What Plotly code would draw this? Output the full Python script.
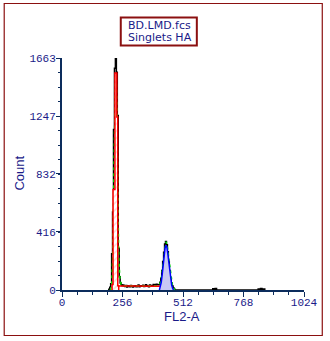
import plotly.graph_objects as go

# Raw FL2-A histogram, 4-channel bins
raw_channel = [196, 200, 204, 208, 212, 216, 220, 224, 228, 232, 236, 240, 244, 248,
               252, 256, 260, 264, 268, 272, 276, 280, 284, 288, 292, 296, 300, 304,
               308, 312, 316, 320, 324, 328, 332, 336, 340, 344, 348, 352, 356, 360,
               364, 368, 372, 376, 380, 384, 388, 392, 396, 400, 404, 408, 412, 416,
               420, 424, 428, 432, 436, 440, 444, 448, 452, 456, 460, 464, 468, 472,
               476, 480, 636, 640, 644, 652, 656, 828, 832, 836, 844, 848, 856, 860]
raw_count = [0, 5, 20, 45, 260, 560, 1150, 1590, 1663, 1560, 1250, 300, 95, 50,
             38, 30, 35, 28, 25, 32, 22, 30, 26, 24, 33, 27, 22, 29,
             25, 31, 24, 27, 35, 23, 28, 30, 26, 34, 25, 29, 38, 27,
             31, 24, 36, 30, 33, 28, 40, 35, 38, 42, 40, 38, 38, 55,
             85, 140, 205, 270, 330, 348, 325, 275, 205, 140, 85, 50, 28, 14,
             6, 0, 0, 9, 0, 11, 0, 0, 8, 0, 10, 0, 7, 0]

# G0/G1 model peak
g1_channel = [208, 212, 216, 224, 232, 236, 240]
g1_count = [0, 40, 720, 1555, 1240, 30, 0]

# S-phase model
s_channel = [236, 244, 300, 360, 420, 450, 466, 470]
s_count = [26, 28, 28, 28, 26, 20, 12, 0]

# G2/M model peak
g2_channel = [412, 416, 420, 424, 428, 432, 436, 440, 444, 448, 452, 456, 460, 464, 468, 472]
g2_count = [0, 20, 55, 110, 180, 250, 300, 320, 305, 255, 190, 125, 70, 35, 12, 0]

# Sum of all model components
fit_channel = [204, 210, 214, 218, 222, 226, 229, 233, 240, 245, 250, 260, 330, 400,
               412, 416, 420, 424, 428, 432, 436, 440, 444, 448, 452, 456, 460, 464,
               468, 472, 478]
fit_count = [0, 30, 200, 700, 1250, 1530, 1555, 1240, 237, 86, 40, 30, 29, 30,
             40, 50, 80, 135, 205, 275, 325, 345, 330, 280, 215, 150, 95, 50,
             25, 12, 0]

x_ticks = [0, 256, 512, 768, 1024]
y_ticks = [0, 416, 832, 1247, 1663]

W, H = 330, 341
L, R, T, B = 62, 23, 58, 51
PW, PH = W - L - R, H - T - B

AXIS = "#0c2c5c"
TEXT = "#1a1a88"
FRAME = "#8b1010"


def px(x, y):
    return (x - L) / PW, (H - B - y) / PH


fig = go.Figure()

fig.add_trace(go.Scatter(x=raw_channel, y=raw_count, mode="lines",
                         line=dict(color="black", width=1.5, shape="hvh"),
                         hoverinfo="skip"))
fig.add_trace(go.Scatter(x=fit_channel, y=fit_count, mode="lines",
                         line=dict(color="#00e000", width=1.5, dash="3px,3px"),
                         hoverinfo="skip"))
fig.add_trace(go.Scatter(x=s_channel, y=s_count, mode="lines",
                         line=dict(color="#ff0000", width=1.5),
                         hoverinfo="skip"))
fig.add_trace(go.Scatter(x=g1_channel, y=g1_count, mode="lines", fill="tozeroy",
                         line=dict(color="#ff0000", width=1.5, shape="hv"),
                         fillcolor="rgba(0,0,0,0)",
                         fillpattern=dict(shape="/", fgcolor="#ffb0b0", bgcolor="white",
                                          size=5, solidity=0.3),
                         hoverinfo="skip"))
fig.add_trace(go.Scatter(x=g2_channel, y=g2_count, mode="lines", fill="tozeroy",
                         line=dict(color="#0000ff", width=1.5),
                         fillcolor="#c8c8f4",
                         hoverinfo="skip"))

axis_common = dict(
    showline=True, linewidth=2, linecolor=AXIS, mirror=False,
    showgrid=False, zeroline=False, ticks="outside", tickwidth=1, tickcolor=AXIS,
    tickfont=dict(family="Liberation Mono", size=11, color=TEXT),
    fixedrange=True,
)

fig.update_layout(
    width=W, height=H,
    margin=dict(l=L, r=R, t=T, b=B, pad=0),
    paper_bgcolor="white", plot_bgcolor="white",
    showlegend=False,
    xaxis=dict(range=[0, 1024], tickvals=x_ticks, ticktext=[str(v) for v in x_ticks],
               ticklen=5, ticklabelstandoff=-4,
               minor=dict(dtick=64, tick0=0, ticks="outside", ticklen=3,
                          tickcolor=AXIS, showgrid=False),
               **axis_common),
    yaxis=dict(range=[0, 1663], tickvals=y_ticks, ticktext=[str(v) for v in y_ticks],
               ticklen=4, ticklabelstandoff=-2,
               minor=dict(dtick=1663 / 16, tick0=0, ticks="outside", ticklen=2,
                          tickcolor=AXIS, showgrid=False),
               **axis_common),
)

# outer frame and the file / gate label box
x0, y0 = px(3.5, 3.5)
x1, y1 = px(325.5, 335.5)
fig.add_shape(type="rect", xref="paper", yref="paper", x0=x0, y0=y0, x1=x1, y1=y1,
              line=dict(color=FRAME, width=1.2), layer="above")
x0, y0 = px(121.5, 17.5)
x1, y1 = px(198.5, 45.5)
fig.add_shape(type="rect", xref="paper", yref="paper", x0=x0, y0=y0, x1=x1, y1=y1,
              line=dict(color=FRAME, width=2), layer="above")

label_font = dict(family="DejaVu Sans", size=11, color=TEXT)
for text, ypx in (("BD.LMD.fcs", 25.5), ("Singlets HA", 38)):
    ax, ay = px(127, ypx)
    fig.add_annotation(x=ax, y=ay, xref="paper", yref="paper", text=text,
                       showarrow=False, xanchor="left", yanchor="middle",
                       font=label_font)

title_font = dict(family="Liberation Sans", size=13, color=TEXT)
ax, ay = px(183.5, 316)
fig.add_annotation(x=ax, y=ay, xref="paper", yref="paper", text="FL2-A",
                   showarrow=False, xanchor="center", yanchor="middle", font=title_font)
ax, ay = px(18.5, 173.5)
fig.add_annotation(x=ax, y=ay, xref="paper", yref="paper", text="Count",
                   showarrow=False, xanchor="center", yanchor="middle", textangle=-90,
                   font=title_font)

fig.write_html("out.html", config={"displayModeBar": False})
